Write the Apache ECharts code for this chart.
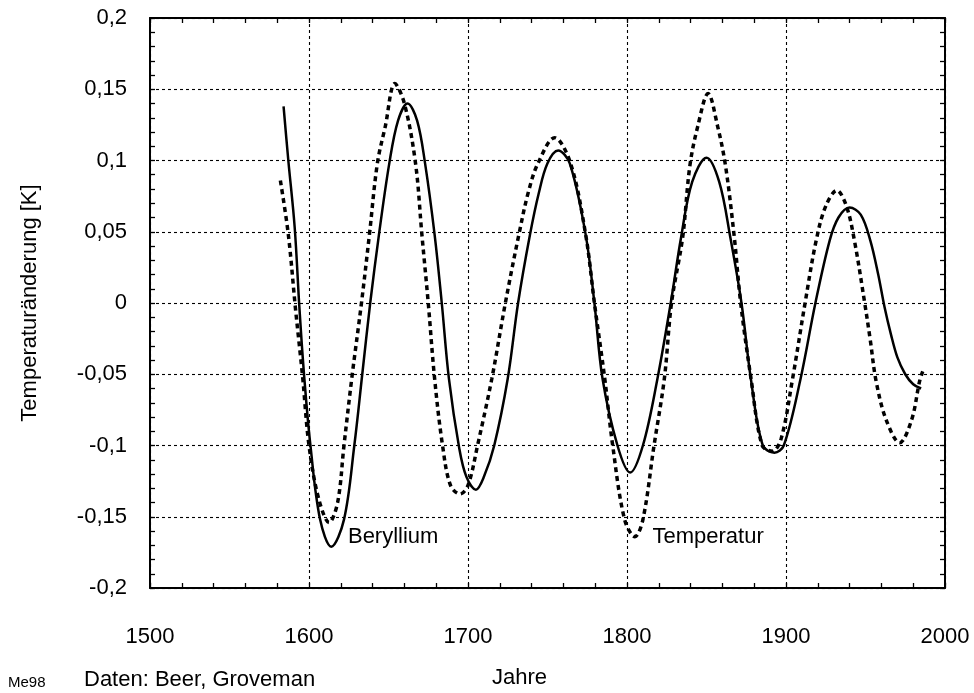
<!DOCTYPE html>
<html>
<head>
<meta charset="utf-8">
<script src="https://cdn.jsdelivr.net/npm/echarts@6/dist/echarts.min.js"></script>
<style>html,body{margin:0;padding:0;background:#fff}#c{width:974px;height:693px}</style>
</head>
<body>
<div id="c"></div>
<script>
// Beryllium (solid line)
const berylliumYears = [1584, 1587, 1591, 1594, 1597, 1601, 1607, 1614, 1622, 1628.5, 1633.5, 1638.5, 1644, 1650.5, 1656, 1662, 1668, 1673, 1679, 1683.5, 1688, 1694.5, 1699, 1705, 1710, 1716.5, 1725, 1731.5, 1739, 1744.5, 1750, 1756.7, 1764, 1774, 1779.5, 1784.6, 1794, 1802, 1810, 1819, 1827.5, 1834, 1841, 1850, 1858, 1865, 1872, 1878, 1885.4, 1892.7, 1898.6, 1909, 1918.5, 1927.5, 1933, 1940, 1947, 1953, 1958, 1962, 1966, 1970, 1975, 1980, 1985];
const berylliumValues = [0.138, 0.10, 0.053, -0.004, -0.052, -0.101, -0.152, -0.171, -0.152, -0.10, -0.05, 0.0, 0.048, 0.098, 0.128, 0.140, 0.128, 0.098, 0.048, 0.0, -0.053, -0.102, -0.122, -0.131, -0.122, -0.1, -0.053, 0.0, 0.048, 0.077, 0.098, 0.107, 0.098, 0.048, 0.0, -0.053, -0.1, -0.119, -0.1, -0.054, 0.0, 0.046, 0.085, 0.102, 0.085, 0.046, 0.0, -0.054, -0.1, -0.105, -0.1, -0.054, 0.0, 0.044, 0.06, 0.067, 0.062, 0.044, 0.02, -0.003, -0.022, -0.038, -0.05, -0.057, -0.06];
// Temperatur (dashed line)
const temperaturYears = [1582, 1587, 1591.5, 1596, 1600, 1606, 1612.7, 1618, 1622, 1627, 1633, 1638, 1643, 1648, 1654, 1660, 1667, 1671, 1675, 1679, 1684, 1689, 1695, 1700, 1706, 1715, 1723.5, 1732, 1738, 1744, 1754.5, 1764.5, 1774, 1779.5, 1786, 1791, 1798.5, 1805, 1810, 1817, 1823.5, 1828, 1835, 1839.5, 1844.5, 1851, 1857, 1862, 1867.5, 1871.5, 1878, 1885, 1891.5, 1897, 1904, 1912, 1919, 1925, 1932, 1938, 1943, 1949.5, 1953, 1956.7, 1963, 1971.5, 1979, 1984, 1986];
const temperaturValues = [0.086, 0.048, -0.004, -0.052, -0.1, -0.137, -0.154, -0.14, -0.1, -0.052, 0.0, 0.048, 0.098, 0.124, 0.154, 0.14, 0.098, 0.048, 0.0, -0.053, -0.1, -0.128, -0.134, -0.128, -0.1, -0.053, 0.0, 0.048, 0.078, 0.098, 0.116, 0.098, 0.048, 0.0, -0.053, -0.1, -0.152, -0.164, -0.152, -0.1, -0.053, 0.0, 0.046, 0.096, 0.124, 0.147, 0.124, 0.096, 0.046, 0.0, -0.053, -0.1, -0.104, -0.095, -0.054, 0.0, 0.044, 0.068, 0.079, 0.068, 0.044, 0.0, -0.026, -0.055, -0.082, -0.098, -0.082, -0.055, -0.048];

const xMin = 1500, xMax = 2000, xStep = 100;
const yMin = -0.2, yMax = 0.2, yStep = 0.05;
const yAxisTitle = 'Temperaturänderung [K]';
const xAxisTitle = 'Jahre';
const sourceNote = 'Daten: Beer, Groveman';
const codeNote = 'Me98';
const seriesNames = ['Beryllium', 'Temperatur'];
const labelAnchors = [[1624.5, -0.1645], [1816, -0.1645]];

const FONT = '"Liberation Sans", Arial, Helvetica, sans-serif';
const zip = (xs, ys) => xs.map((x, i) => [x, ys[i]]);
const fmtY = v => { const r = Math.round(v * 100) / 100; return r === 0 ? '0' : String(r).replace('.', ','); };
const fmtX = v => String(Math.round(v));

const chart = echarts.init(document.getElementById('c'), null, {renderer: 'canvas'});
const axisLine = {show: true, onZero: false, lineStyle: {color: '#000', width: 2}};
const tick = {show: true, inside: true, length: 5, lineStyle: {color: '#000', width: 1.3}};
const minor = {show: true, splitNumber: 5, length: 5, lineStyle: {color: '#000', width: 1.3}};
const grid = {show: true, lineStyle: {color: '#000', width: 1.1, type: [3, 3]}};

chart.setOption({
  animation: false,
  backgroundColor: '#fff',
  grid: {left: 150, right: 29, top: 18, bottom: 105},
  xAxis: [
    {type: 'value', min: xMin, max: xMax, interval: xStep, position: 'bottom',
     axisLine, axisTick: tick, minorTick: minor, splitLine: grid,
     axisLabel: {margin: 38, fontSize: 22, color: '#000', fontFamily: FONT, formatter: fmtX}},
    {type: 'value', min: xMin, max: xMax, interval: xStep, position: 'top',
     axisLine, axisTick: tick, minorTick: minor, splitLine: {show: false}, axisLabel: {show: false}}
  ],
  yAxis: [
    {type: 'value', min: yMin, max: yMax, interval: yStep, position: 'left',
     axisLine, axisTick: tick, minorTick: minor, splitLine: grid,
     axisLabel: {margin: 23, fontSize: 22, color: '#000', fontFamily: FONT, formatter: fmtY}},
    {type: 'value', min: yMin, max: yMax, interval: yStep, position: 'right',
     axisLine, axisTick: tick, minorTick: minor, splitLine: {show: false}, axisLabel: {show: false}}
  ],
  series: [
    {name: seriesNames[0], type: 'line', data: zip(berylliumYears, berylliumValues), smooth: 0.35,
     showSymbol: false, lineStyle: {color: '#000', width: 2.5}, z: 3,
     markPoint: {symbol: 'circle', symbolSize: 0, data: [{coord: labelAnchors[0]}],
       label: {show: true, position: 'inside', align: 'left', verticalAlign: 'middle', formatter: seriesNames[0], fontSize: 22, color: '#000', fontFamily: FONT}}},
    {name: seriesNames[1], type: 'line', data: zip(temperaturYears, temperaturValues), smooth: 0.35,
     showSymbol: false, lineStyle: {color: '#000', width: 3.5, type: [5, 4]}, z: 3,
     markPoint: {symbol: 'circle', symbolSize: 0, data: [{coord: labelAnchors[1]}],
       label: {show: true, position: 'inside', align: 'left', verticalAlign: 'middle', formatter: seriesNames[1], fontSize: 22, color: '#000', fontFamily: FONT}}}
  ],
  graphic: [
    {type: 'text', x: 30, y: 303, rotation: Math.PI / 2,
     style: {text: yAxisTitle, fontSize: 22, fontFamily: FONT, fill: '#000', align: 'center', verticalAlign: 'middle'}},
    {type: 'text', x: 8, y: 683, style: {text: codeNote, fontSize: 15, fontFamily: FONT, fill: '#000', verticalAlign: 'middle'}},
    {type: 'text', x: 84, y: 680, style: {text: sourceNote, fontSize: 22, fontFamily: FONT, fill: '#000', verticalAlign: 'middle'}},
    {type: 'text', x: 492, y: 678, style: {text: xAxisTitle, fontSize: 22, fontFamily: FONT, fill: '#000', verticalAlign: 'middle'}}
  ]
});
</script>
</body>
</html>
